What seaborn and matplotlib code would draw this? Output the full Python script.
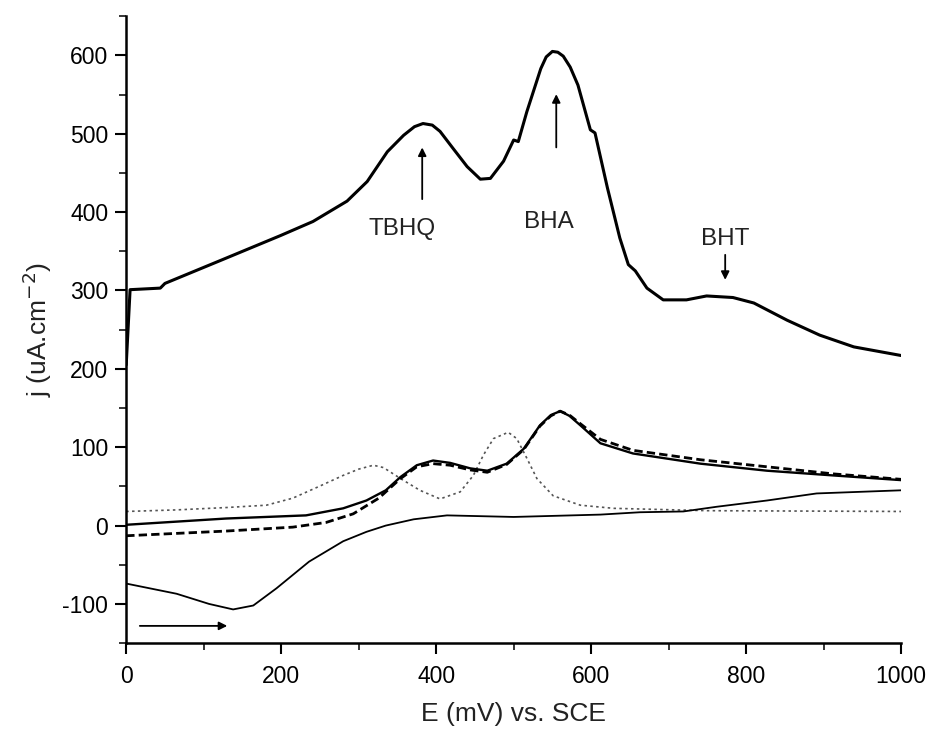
import matplotlib
matplotlib.use("Agg")
import matplotlib.pyplot as plt
from matplotlib.ticker import MultipleLocator
import seaborn as sns

sns.set_theme(style="ticks")
plt.rcParams["font.family"] = ["Liberation Sans", "DejaVu Sans"]
plt.rcParams["axes.unicode_minus"] = False

# Mixture, upper trace (j in uA/cm2 vs E in mV)
top_E = [0, 5, 44, 50, 121, 199, 241, 285, 311, 337, 358, 372, 383, 395, 405,
         422, 440, 457, 470, 487, 500, 506, 517, 535, 542, 550, 557, 564, 573,
         583, 599, 605, 621, 637, 648, 657, 672, 693, 723, 749, 783, 810, 853,
         895, 939, 1000]
top_j = [205, 301, 303, 309, 338, 370, 388, 414, 439, 477, 498, 509, 513, 511,
         503, 481, 458, 442, 443, 465, 492, 490, 528, 583, 598, 605, 604, 599,
         585, 562, 505, 501, 431, 367, 333, 325, 303, 288, 288, 293, 291, 284,
         262, 243, 228, 217]

# Thin solid trace with cathodic minimum
low_E = [0, 65, 107, 138, 164, 194, 236, 280, 310, 335, 371, 414, 500, 612,
         663, 719, 762, 827, 891, 1000]
low_j = [-74, -87, -100, -107, -102, -80, -46, -20, -8, 0, 8, 13, 11, 14,
         17, 18, 24, 32, 41, 45]

# Thick solid trace
sol_E = [0, 129, 232, 280, 310, 335, 354, 375, 396, 418, 444, 466, 491, 513,
         534, 548, 560, 572, 586, 612, 654, 741, 827, 912, 1000]
sol_j = [1, 9, 13, 22, 32, 45, 62, 77, 83, 80, 73, 70, 79, 98,
         128, 141, 146, 140, 128, 105, 92, 79, 70, 64, 58]

# Thick dashed trace
dsh_E = [0, 129, 215, 258, 293, 326, 354, 375, 396, 418, 444, 466, 491, 513,
         534, 548, 560, 572, 586, 612, 654, 741, 827, 912, 1000]
dsh_j = [-13, -7, -2, 4, 15, 35, 60, 75, 79, 77, 71, 68, 78, 97,
         127, 140, 146, 141, 130, 110, 96, 84, 75, 66, 59]

# Thin dotted trace
dot_E = [0, 65, 129, 181, 215, 249, 280, 300, 319, 332, 354, 379, 405, 431,
         448, 461, 474, 493, 504, 517, 530, 551, 586, 629, 750, 1000]
dot_j = [18, 20, 23, 26, 35, 50, 64, 72, 77, 74, 60, 45, 34, 43,
         64, 90, 111, 119, 111, 86, 60, 38, 26, 22, 19, 18]

fig = plt.figure(figsize=(9.28, 7.35), dpi=100)
ax = fig.add_axes([0.136, 0.125, 0.835, 0.853])

sns.lineplot(x=dot_E, y=dot_j, ax=ax, color="#555555", lw=1.2,
             linestyle=(0, (1.5, 2.0)))
sns.lineplot(x=low_E, y=low_j, ax=ax, color="black", lw=1.3)
sns.lineplot(x=dsh_E, y=dsh_j, ax=ax, color="black", lw=2.0,
             linestyle=(0, (3.0, 1.5)))
sns.lineplot(x=sol_E, y=sol_j, ax=ax, color="black", lw=1.7)
sns.lineplot(x=top_E, y=top_j, ax=ax, color="black", lw=2.2)

arrow = dict(arrowstyle="-|>", color="black", lw=1.3, mutation_scale=12)
ax.annotate("", xy=(382, 486), xytext=(382, 413), arrowprops=arrow)
ax.annotate("", xy=(555, 554), xytext=(555, 479), arrowprops=arrow)
ax.annotate("", xy=(773, 310), xytext=(773, 349), arrowprops=arrow)
ax.annotate("", xy=(134, -128), xytext=(14, -128), arrowprops=arrow)

ax.text(356, 378, "TBHQ", ha="center", va="center", fontsize=17.5,
        color="#222222")
ax.text(546, 387, "BHA", ha="center", va="center", fontsize=17.5,
        color="#222222")
ax.text(773, 366, "BHT", ha="center", va="center", fontsize=17.5,
        color="#222222")

ax.set_xlim(0, 1000)
ax.set_ylim(-150, 650)
ax.xaxis.set_major_locator(MultipleLocator(200))
ax.xaxis.set_minor_locator(MultipleLocator(100))
ax.yaxis.set_major_locator(MultipleLocator(100))
ax.yaxis.set_minor_locator(MultipleLocator(50))
ax.tick_params(which="major", direction="out", length=8, width=1.5,
               labelsize=16.5, colors="black", pad=5)
ax.tick_params(axis="x", which="major", pad=8)
ax.tick_params(which="minor", direction="out", length=5, width=1.3)
ax.set_yticks([-100, 0, 100, 200, 300, 400, 500, 600])
sns.despine(ax=ax)
for s in ("left", "bottom"):
    ax.spines[s].set_linewidth(1.8)
    ax.spines[s].set_color("black")

ax.set_xlabel("E (mV) vs. SCE", fontsize=19, labelpad=10, color="#222222")
ax.set_ylabel(r"j (uA.cm$^{-2}$)", fontsize=19, labelpad=6, color="#222222")

fig.savefig("out.png", dpi=100)
